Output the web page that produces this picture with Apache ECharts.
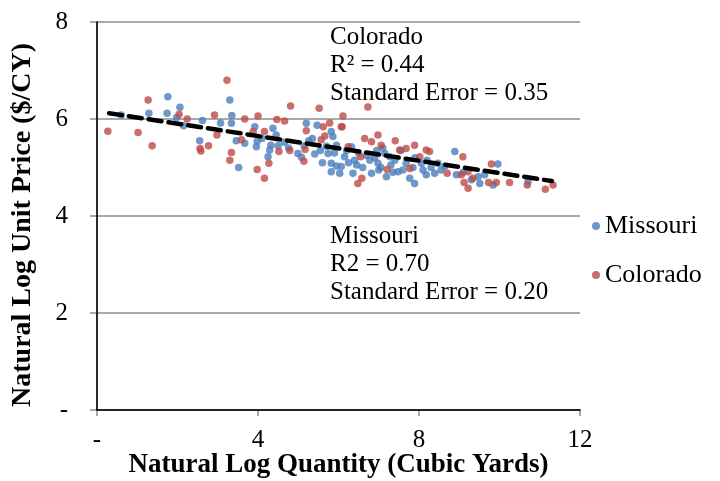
<!DOCTYPE html>
<html>
<head>
<meta charset="utf-8">
<script src="https://cdn.jsdelivr.net/npm/echarts@6/dist/echarts.min.js"></script>
<style>
  html, body { margin: 0; padding: 0; background: #fff; }
  #chart { width: 720px; height: 481px; }
</style>
</head>
<body>
<div id="chart"></div>
<script>
// values
const missouriX = [0.6, 1.29, 1.76, 1.74, 1.98, 2.06, 2.15, 2.62, 2.55, 3.07, 3.3, 3.35, 3.34, 3.46, 3.52, 3.67, 3.92, 3.98, 3.96, 4.25, 4.32, 4.37, 4.45, 4.29, 4.66, 4.76, 4.99, 5.08, 5.2, 5.26, 5.41, 5.47, 5.7, 5.74, 5.82, 5.86, 5.82, 5.95, 5.82, 6.03, 5.95, 6.07, 6.32, 6.4, 6.36, 6.78, 6.82, 7.19, 6.98, 7.27, 7.48, 7.68, 7.77, 7.89, 8.06, 8.18, 8.39, 8.47, 8.64, 8.89, 8.93, 6.15, 7.15, 9.96, 9.51, 9.63, 9.84, 10.71, 9.47, 6.6, 7.0, 7.3, 7.6, 7.9, 8.2, 6.5, 7.1, 6.9, 8.3, 5.6, 6.2, 4.1, 4.5, 9.1, 9.3, 5.35, 5.55, 5.9, 6.25, 6.7, 7.05, 7.4, 7.55, 7.85, 8.1, 8.55, 6.45, 6.95, 7.35, 5.15]
const missouriY = [6.08, 6.12, 6.46, 6.12, 6.03, 6.24, 5.86, 5.97, 5.55, 5.92, 6.39, 6.07, 5.91, 5.55, 5.0, 5.5, 5.84, 5.54, 5.43, 5.22, 5.46, 5.81, 5.67, 5.36, 5.52, 5.4, 5.29, 5.21, 5.91, 5.55, 5.28, 5.87, 5.44, 5.29, 5.74, 5.64, 5.09, 5.03, 4.91, 4.88, 5.46, 5.02, 5.43, 5.15, 4.88, 5.15, 4.88, 4.81, 5.09, 5.22, 4.91, 5.09, 4.78, 4.67, 5.09, 4.85, 4.88, 5.09, 5.02, 5.33, 4.85, 5.22, 5.29, 5.07, 4.67, 4.85, 4.64, 4.71, 4.81, 5.0, 4.95, 5.05, 4.95, 5.2, 5.15, 5.3, 5.4, 5.2, 5.0, 5.1, 5.35, 5.6, 5.45, 4.9, 4.75, 5.6, 5.35, 5.3, 5.1, 5.25, 5.0, 5.15, 5.35, 5.0, 4.95, 4.95, 5.05, 5.35, 4.9, 5.45]

const coloradoX = [0.27, 1.02, 1.27, 1.37, 2.04, 2.24, 2.92, 2.98, 2.56, 2.58, 2.77, 3.23, 3.34, 3.3, 3.67, 4.0, 3.98, 4.16, 4.27, 4.16, 3.88, 3.59, 4.47, 4.66, 4.81, 4.52, 4.79, 5.14, 5.2, 5.17, 5.52, 5.62, 5.78, 5.66, 5.57, 6.07, 6.73, 6.11, 6.09, 6.65, 6.82, 6.98, 7.41, 7.06, 6.55, 6.58, 6.48, 7.21, 7.52, 7.68, 7.89, 8.18, 8.26, 7.77, 8.02, 8.7, 6.24, 9.09, 9.22, 9.34, 9.12, 9.22, 9.8, 9.73, 9.92, 10.25, 10.69, 11.14, 11.33, 9.05]
const coloradoY = [5.75, 5.72, 6.39, 5.45, 6.1, 6.0, 6.08, 5.67, 5.39, 5.34, 5.45, 6.8, 5.31, 5.15, 6.0, 6.06, 4.96, 4.78, 5.09, 5.74, 5.74, 5.57, 5.99, 5.96, 6.27, 5.33, 5.35, 5.13, 5.76, 5.37, 6.22, 5.84, 5.92, 5.65, 5.57, 5.84, 6.25, 6.06, 5.84, 5.6, 5.53, 5.67, 5.55, 5.46, 5.22, 4.78, 4.67, 4.96, 5.36, 5.39, 5.46, 5.36, 5.33, 4.98, 5.22, 4.88, 5.43, 5.22, 4.91, 4.78, 4.69, 4.57, 5.07, 4.69, 4.69, 4.69, 4.64, 4.55, 4.64, 4.85]

// trend line endpoints
const trendX = [0.3, 11.3]
const trendY = [6.12, 4.72]

const xTicks = { 0: '-', 4: '4', 8: '8', 12: '12' }
const yTicks = { 0: '-', 2: '2', 4: '4', 6: '6', 8: '8' }

const coloradoNote = ['Colorado', 'R² = 0.44', 'Standard Error = 0.35']
const missouriNote = ['Missouri', 'R2 = 0.70', 'Standard Error = 0.20']

const FONT = 'Liberation Serif'
const GRAY = '#8c8c8c'

const zip = (xs, ys) => xs.map((x, i) => [x, ys[i]])

const myChart = echarts.init(document.getElementById('chart'))

const option = {
  animation: false,
  textStyle: { fontFamily: FONT },
  grid: { left: 97, right: 140, top: 22, bottom: 71, outerBoundsMode: 'none', containLabel: false },
  legend: {
    data: ['Missouri', 'Colorado'],
    orient: 'vertical',
    left: 587,
    top: 208,
    itemGap: 23,
    itemWidth: 8,
    itemHeight: 8,
    icon: 'circle',
    textStyle: { fontFamily: FONT, fontSize: 26, color: '#000' }
  },
  xAxis: [
    {
      type: 'value',
      min: 0,
      max: 12,
      interval: 4,
      name: 'Natural Log Quantity (Cubic Yards)',
      nameLocation: 'middle',
      nameGap: 42,
      nameMoveOverlap: false,
      nameTextStyle: { fontFamily: FONT, fontSize: 27, fontWeight: 'bold', color: '#000' },
      axisLine: { lineStyle: { color: GRAY, width: 1.5 } },
      axisTick: { show: true, length: 6, lineStyle: { color: GRAY, width: 1.5 } },
      axisLabel: {
        margin: 18,
        fontFamily: FONT,
        fontSize: 25,
        color: '#000',
        formatter: v => xTicks[v]
      },
      splitLine: { show: false }
    },
    {
      // black frame on top
      type: 'value',
      position: 'top',
      min: 0,
      max: 12,
      z: 5,
      axisLine: { show: true, lineStyle: { color: '#000', width: 1.5 } },
      axisTick: { show: false },
      axisLabel: { show: false },
      splitLine: { show: false }
    }
  ],
  yAxis: [
    {
      type: 'value',
      min: 0,
      max: 8,
      interval: 2,
      name: 'Natural Log Unit Price ($/CY)',
      nameLocation: 'middle',
      nameGap: 60,
      nameMoveOverlap: false,
      nameTextStyle: {
        fontFamily: FONT, fontSize: 28, fontWeight: 'bold', color: '#000',
        padding: [0, 18, 0, 0]
      },
      axisLine: { show: true, lineStyle: { color: GRAY, width: 1.5 } },
      axisTick: { show: true, length: 7, lineStyle: { color: GRAY, width: 1.5 } },
      axisLabel: {
        margin: 29,
        fontFamily: FONT,
        fontSize: 25,
        color: '#000',
        formatter: v => yTicks[v]
      },
      splitLine: { show: true, lineStyle: { color: GRAY, width: 1.5 } }
    },
    {
      // black frame on the right
      type: 'value',
      position: 'right',
      min: 0,
      max: 8,
      z: 5,
      axisLine: { show: true, lineStyle: { color: '#000', width: 1.5 } },
      axisTick: { show: false },
      axisLabel: { show: false },
      splitLine: { show: false }
    }
  ],
  graphic: [
    {
      type: 'text',
      left: 330,
      top: 23,
      style: {
        text: coloradoNote.join('\n'),
        font: '25px "Liberation Serif"',
        lineHeight: 28.3,
        fill: '#000'
      }
    },
    {
      type: 'text',
      left: 330,
      top: 222,
      style: {
        text: missouriNote.join('\n'),
        font: '25px "Liberation Serif"',
        lineHeight: 28.3,
        fill: '#000'
      }
    }
  ],
  series: [
    {
      name: 'Missouri',
      type: 'scatter',
      symbolSize: 7.5,
      itemStyle: { color: '#4a7ebb' },
      data: zip(missouriX, missouriY),
      z: 2
    },
    {
      name: 'Colorado',
      type: 'scatter',
      symbolSize: 7.5,
      itemStyle: { color: '#be4b48' },
      data: zip(coloradoX, coloradoY),
      z: 3
    },
    {
      name: 'Trend',
      type: 'line',
      symbol: 'none',
      lineStyle: { color: '#000', width: 4.5, type: [13, 7], cap: 'round' },
      data: zip(trendX, trendY),
      z: 4
    }
  ]
}
myChart.setOption(option)
</script>
</body>
</html>
